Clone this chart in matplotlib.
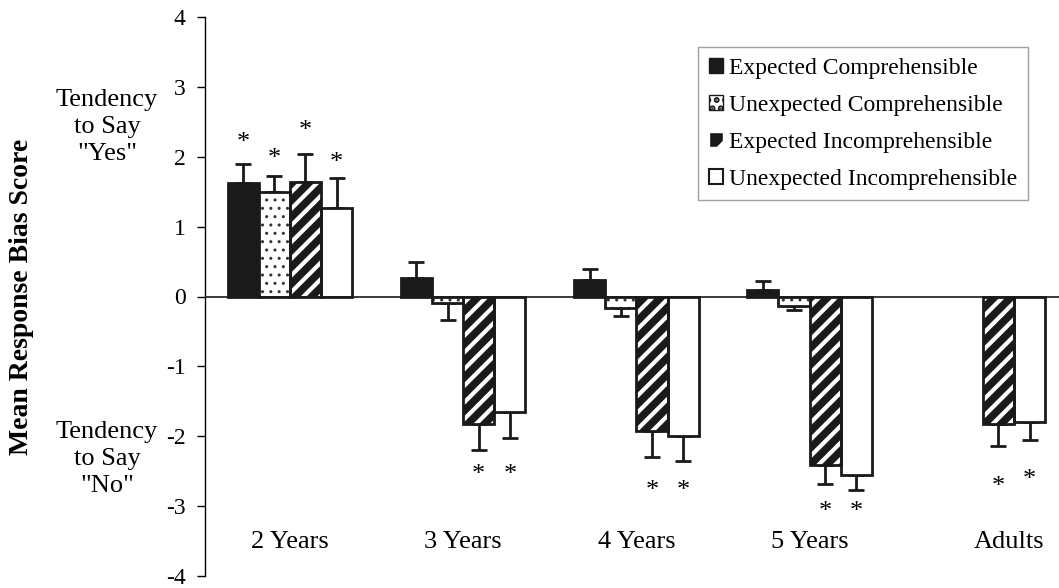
import numpy as np
import matplotlib
matplotlib.use("Agg")
import matplotlib.pyplot as plt
from matplotlib.patches import Patch

plt.rcParams['font.family'] = ['Liberation Serif', 'DejaVu Serif']
plt.rcParams['axes.unicode_minus'] = False
plt.rcParams['hatch.linewidth'] = 3.0

groups = ['2 Years', '3 Years', '4 Years', '5 Years', 'Adults']
series = ['Expected Comprehensible', 'Unexpected Comprehensible',
          'Expected Incomprehensible', 'Unexpected Incomprehensible']

# mean bias score per group, one list per condition
exp_comp = [1.63, 0.27, 0.23, 0.10, np.nan]
unexp_comp = [1.50, -0.09, -0.17, -0.13, np.nan]
exp_incomp = [1.64, -1.83, -1.93, -2.41, -1.82]
unexp_incomp = [1.27, -1.66, -2.00, -2.55, -1.80]

# standard error (drawn away from zero only)
err_exp_comp = [0.27, 0.23, 0.16, 0.12, np.nan]
err_unexp_comp = [0.22, 0.25, 0.11, 0.07, np.nan]
err_exp_incomp = [0.40, 0.37, 0.36, 0.28, 0.32]
err_unexp_incomp = [0.42, 0.36, 0.35, 0.22, 0.26]

# significance asterisks: (group, series, y)
stars = [(0, 0, 2.20), (0, 1, 1.97), (0, 2, 2.37), (0, 3, 1.91),
         (1, 2, -2.56), (1, 3, -2.56),
         (2, 2, -2.78), (2, 3, -2.78),
         (3, 2, -3.08), (3, 3, -3.08),
         (4, 2, -2.72), (4, 3, -2.62)]

values = [exp_comp, unexp_comp, exp_incomp, unexp_incomp]
errors = [err_exp_comp, err_unexp_comp, err_exp_incomp, err_unexp_incomp]

fig = plt.figure(figsize=(10.59, 5.88), dpi=100)
ax = fig.add_axes([205 / 1059, 1 - 576 / 588, 1 - 205 / 1059, 559 / 588])

x = np.arange(len(groups))
w = 0.18
offsets = np.array([-1.5, -0.5, 0.5, 1.5]) * w
ink = '#1a1a1a'

for i in range(4):
    v = np.array(values[i])
    e = np.array(errors[i])
    xs = x + offsets[i]
    if i == 2:
        ax.bar(xs, v, w, color=ink, edgecolor='white', hatch='//', linewidth=0, zorder=2)
        ax.bar(xs, v, w, fill=False, edgecolor=ink, linewidth=2, zorder=3)
    elif i == 1:
        plt.rcParams['hatch.linewidth'] = 1.0
        ax.bar(xs, v, w, color='white', edgecolor='#333333', hatch='..', linewidth=0, zorder=2)
        ax.bar(xs, v, w, fill=False, edgecolor=ink, linewidth=2, zorder=3)
        plt.rcParams['hatch.linewidth'] = 3.0
    elif i == 0:
        ax.bar(xs, v, w, color=ink, edgecolor=ink, linewidth=2, zorder=2)
    else:
        ax.bar(xs, v, w, color='white', edgecolor=ink, linewidth=2, zorder=2)
    lower = np.where(v < 0, e, 0)
    upper = np.where(v > 0, e, 0)
    ax.errorbar(xs, v, yerr=[lower, upper], fmt='none', ecolor=ink,
                elinewidth=2, capsize=6, capthick=2, zorder=1)

for g, s, y in stars:
    ax.text(x[g] + offsets[s], y, '*', ha='center', va='center', fontsize=19)

ax.axhline(0, color=ink, linewidth=1.2, zorder=4)

label_x = [0, 1, 2, 3, 4.15]
for lx, name in zip(label_x, groups):
    ax.text(lx, -3.51, name, ha='center', va='center', fontsize=19)

ax.set_xlim(-0.49, 4.44)
ax.set_ylim(-4, 4)
ax.set_yticks(range(-4, 5))
ax.set_xticks([])
ax.tick_params(axis='y', labelsize=17, length=6, width=1, pad=8, direction='out')
for sp in ['top', 'right', 'bottom']:
    ax.spines[sp].set_visible(False)
ax.spines['left'].set_linewidth(1)

fig.text(22 / 1059, 1 - 297 / 588, 'Mean Response Bias Score', rotation=90,
         ha='center', va='center', fontsize=20, fontweight='bold')
fig.text(107 / 1059, 1 - 127 / 588, 'Tendency\nto Say\n"Yes"', ha='center',
         va='center', fontsize=19, linespacing=1.3)
fig.text(107 / 1059, 1 - 459 / 588, 'Tendency\nto Say\n"No"', ha='center',
         va='center', fontsize=19, linespacing=1.3)

handles = [Patch(facecolor=ink, edgecolor=ink),
           Patch(facecolor='white', edgecolor=ink, hatch='..'),
           Patch(facecolor=ink, edgecolor='white', hatch='/'),
           Patch(facecolor='white', edgecolor=ink, linewidth=1.5)]
leg = fig.legend(handles, series, loc='upper right',
                 bbox_to_anchor=(1028 / 1059, 1 - 47 / 588), fontsize=17,
                 handlelength=0.6, handleheight=0.6, handletextpad=0.25,
                 labelspacing=0.68, fancybox=False, borderpad=0.45,
                 borderaxespad=0)
leg.get_frame().set_edgecolor('#888888')
leg.get_frame().set_linewidth(1)

fig.savefig('out.png', dpi=100)
